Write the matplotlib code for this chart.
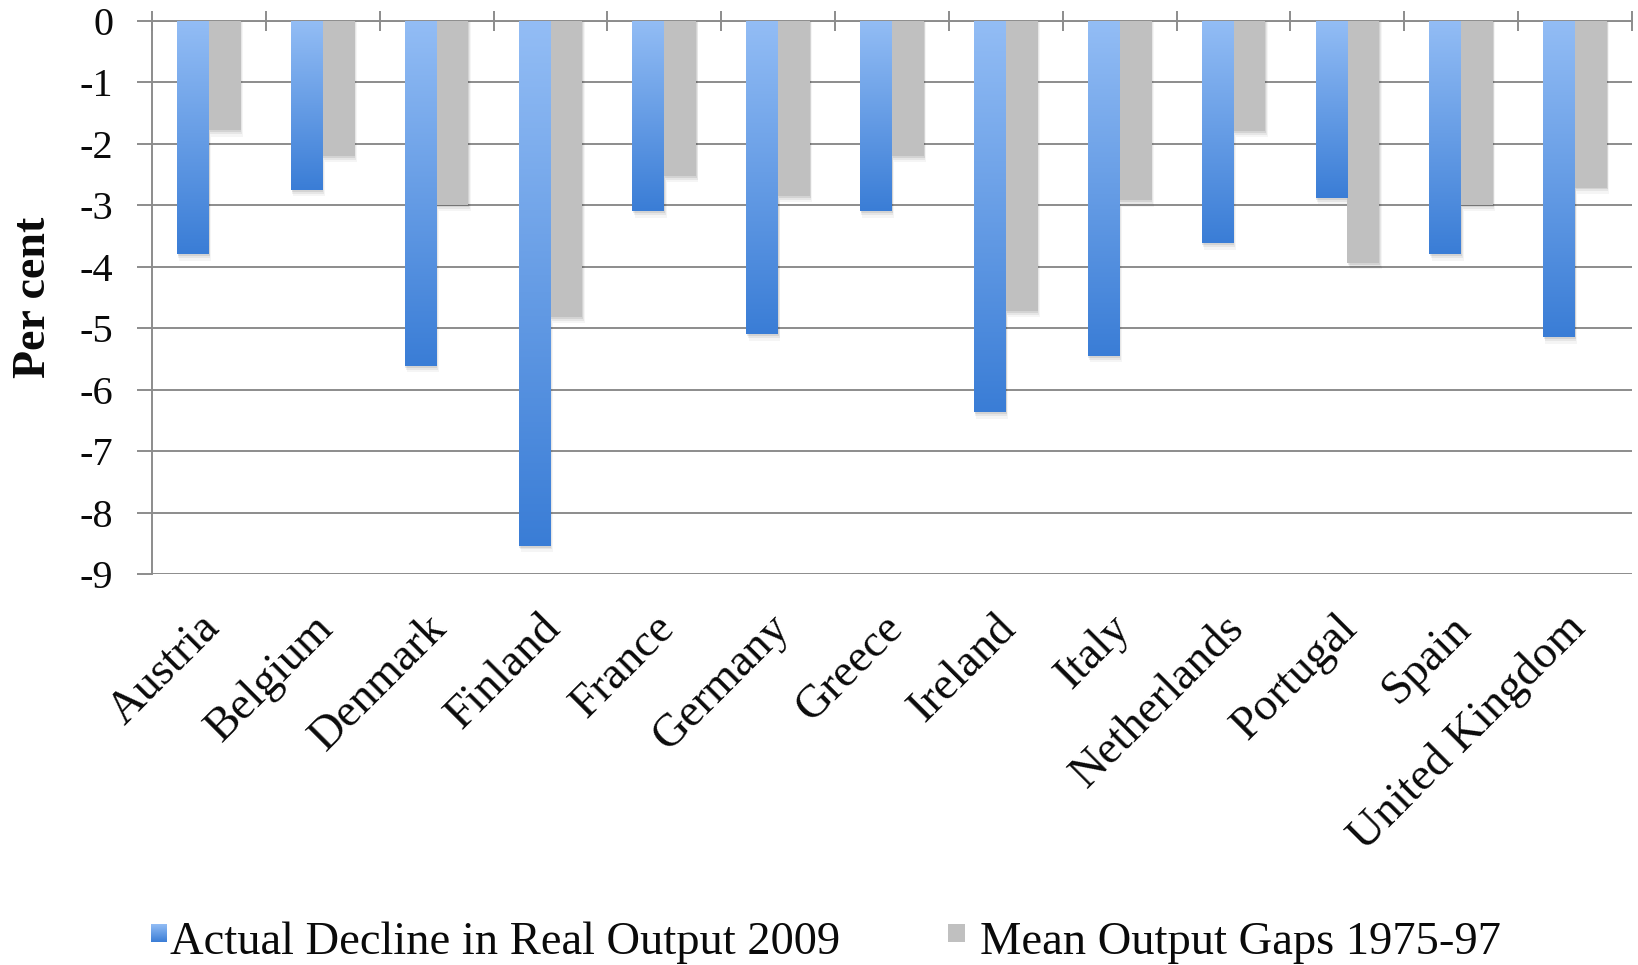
import numpy as np
import matplotlib
matplotlib.use("Agg")
import matplotlib.pyplot as plt
from matplotlib.colors import LinearSegmentedColormap
from matplotlib.patches import Rectangle
import matplotlib.transforms as mtransforms

# ---- data ----
countries = ["Austria", "Belgium", "Denmark", "Finland", "France", "Germany",
             "Greece", "Ireland", "Italy", "Netherlands", "Portugal", "Spain",
             "United Kingdom"]
actual_decline = [-3.8, -2.75, -5.62, -8.54, -3.1, -5.1, -3.1, -6.37, -5.45,
                  -3.62, -2.88, -3.8, -5.15]
mean_gaps = [-1.78, -2.2, -3.0, -4.82, -2.52, -2.85, -2.2, -4.72, -2.92,
             -1.79, -3.94, -3.0, -2.71]
series_labels = ["Actual Decline in Real Output 2009", "Mean Output Gaps 1975-97"]
yticks = list(range(-9, 1))

# ---- style ----
FONT = "Liberation Serif"
plt.rcParams["font.family"] = FONT
plt.rcParams["axes.unicode_minus"] = False
blue_top = "#93bdf5"
blue_bot = "#3a7dd6"
gray = "#c0c0c0"
grid_c = "#8c8c8c"
txt_c = "#0a0a0a"

W, H = 1638, 965
fig = plt.figure(figsize=(W / 100, H / 100), dpi=100)
left, right, top, bottom = 152, 1632, 21, 574
ax = fig.add_axes([left / W, 1 - bottom / H, (right - left) / W, (bottom - top) / H])

x = np.arange(len(countries))
bw = 0.28
bars_b = ax.bar(x - bw / 2, actual_decline, width=bw, color="none", edgecolor="none", zorder=3)
bars_g = ax.bar(x + bw / 2, mean_gaps, width=bw, color=gray, edgecolor="none", zorder=3)

# soft shadows
for bars in (bars_b, bars_g):
    for b in bars:
        for k, a in ((0.02, 0.04), (0.012, 0.06), (0.006, 0.08)):
            ax.add_patch(Rectangle((b.get_x() + k, b.get_y()), b.get_width(),
                                   b.get_height() - 5 * k,
                                   facecolor="black", alpha=a, edgecolor="none", zorder=2))

# gradient on blue bars
cmap = LinearSegmentedColormap.from_list("bl", [blue_top, blue_bot])
grad = np.linspace(0, 1, 256).reshape(-1, 1)
for b in bars_b:
    x0, w, h = b.get_x(), b.get_width(), b.get_height()
    im = ax.imshow(grad, extent=(x0, x0 + w, h, 0), origin="upper", cmap=cmap,
                   aspect="auto", zorder=4, interpolation="bilinear")
    im.set_clip_path(b)

ax.set_xlim(-0.5, len(countries) - 0.5)
ax.set_ylim(-9, 0)

# grid & spines
ax.set_axisbelow(True)
ax.yaxis.grid(True, color=grid_c, linewidth=1.4)
for s in ("right", "bottom"):
    ax.spines[s].set_visible(False)
for s in ("left", "top"):
    ax.spines[s].set_color(grid_c)
    ax.spines[s].set_linewidth(1.4)

ax.set_yticks(yticks)
ax.set_yticklabels([str(v) for v in yticks])
ax.tick_params(axis="y", length=11, width=1.4, color=grid_c, pad=17,
               labelsize=29, labelcolor=txt_c)

# category boundary ticks on top axis
ax.set_xticks(np.arange(-0.5, len(countries), 1.0), minor=True)
ax.tick_params(axis="x", which="minor", top=True, bottom=False, direction="inout",
               length=14, width=1.4, color=grid_c)
ax.set_xticks(x)
ax.set_xticklabels(countries, rotation=45, ha="right", va="baseline",
                   rotation_mode="anchor", fontsize=33.5, color=txt_c)
ax.tick_params(axis="x", which="major", length=0, pad=40)
offset = mtransforms.ScaledTranslation(12 / 100, 0, fig.dpi_scale_trans)
for lab in ax.get_xticklabels():
    lab.set_transform(lab.get_transform() + offset)

fig.text(34 / W, 1 - 297 / H, "Per cent", rotation=90, ha="center", va="center",
         fontsize=33, fontweight="bold", color=txt_c)

# legend
leg_items = [(151, 170, blue_bot, series_labels[0]), (948, 980, gray, series_labels[1])]
for sx, tx, col, lab in leg_items:
    if col == blue_bot:
        lim = fig.add_axes([sx / W, 1 - 942 / H, 16 / W, 18 / H])
        lim.imshow(grad, cmap=cmap, aspect="auto")
        lim.axis("off")
    else:
        fig.patches.append(Rectangle((sx / W, 1 - 942 / H), 17 / W, 18 / H,
                                     transform=fig.transFigure, facecolor=col,
                                     edgecolor="none"))
    fig.text(tx / W, 1 - 954 / H, lab, ha="left", va="baseline", fontsize=33.5,
             color=txt_c)

fig.savefig("out.png", dpi=100, facecolor="white")
